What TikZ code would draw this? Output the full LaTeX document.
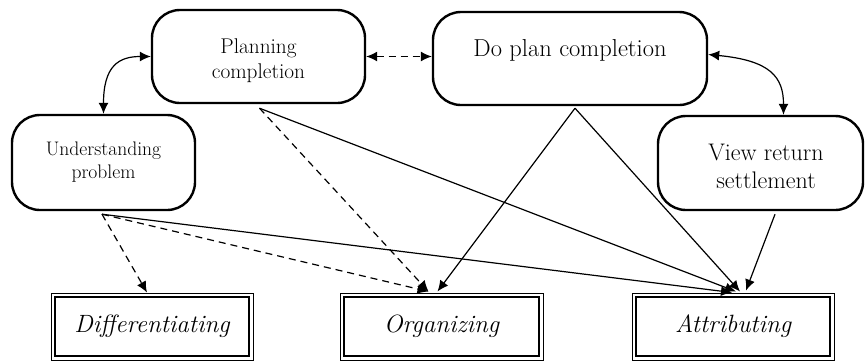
\documentclass[tikz,border=0pt]{standalone}
\usepackage{fontspec}
\usetikzlibrary{arrows.meta,calc}
\begin{document}
\begin{tikzpicture}[x=1pt,y=-1pt,
  rbox/.style={draw, line width=2.4pt, rounded corners=28pt, inner sep=0pt},
  btext/.style={align=center, inner sep=0pt},
  obox/.style={draw, line width=1pt, minimum width=202pt, minimum height=67pt, inner sep=0pt,
    font=\fontsize{25}{28}\selectfont\itshape},
  ibox/.style={line width=2.2pt},
  arr/.style={line width=1.2pt, -{Latex[length=11pt,width=10pt]}},
  barr/.style={line width=1.2pt, {Latex[length=11pt,width=10pt]}-{Latex[length=11pt,width=10pt]}},
  dsh/.style={dash pattern=on 7pt off 5pt}]
\useasboundingbox (0,0) rectangle (866,360);

% rounded boxes
\node[rbox, minimum width=213pt, minimum height=93pt] (p) at (258.5,56.5) {};
\node[btext, font=\fontsize{21.3}{25}\selectfont] (pt) at (258.5,61) {Planning\\completion};

\node[rbox, minimum width=274pt, minimum height=93pt] (do) at (570,58.5) {};
\node[btext, font=\fontsize{24.5}{28}\selectfont] (dt) at (570,50) {Do plan completion};

\node[rbox, minimum width=183pt, minimum height=95pt] (u) at (103.5,162.5) {};
\node[btext, font=\fontsize{19.6}{23}\selectfont] (ut) at (103.5,162.5) {Understanding\\problem};

\node[rbox, minimum width=205pt, minimum height=94pt] (v) at (760.5,163) {};
\node[btext, font=\fontsize{24}{28}\selectfont] (vt) at (766,166.5) {View return\\settlement};

% double-bordered boxes
\node[obox] (d) at (152,326.5) {Differentiating};
\node[obox, minimum width=203pt] (o) at (441.5,326.5) {Organizing};
\node[obox] (a) at (733,326.5) {Attributing};
\foreach \n in {d,o,a}{
  \draw[ibox] ($(\n.north west)+(4.5,4.5)$) rectangle ($(\n.south east)+(-4.5,-4.5)$);
}

% helper coordinates
\coordinate (pb) at ($(p.south)+(1,4)$);
\coordinate (db) at ($(do.south)+(5,2)$);
\coordinate (ub) at ($(u.south)+(-1.5,3)$);
\coordinate (vb) at ($(v.south)+(14.5,3)$);
\coordinate (vtop) at ($(v.north)+(23,0)$);
\coordinate (de) at ($(do.east)+(0,-4)$);

% connectors between upper boxes
\draw[barr] (u.north) .. controls +(0,-48) and +(-32,0) .. (p.west);
\draw[barr, dsh] (p.east) -- (p.east -| do.west);
\draw[barr] (de) .. controls +(62,6) and +(0,-38) .. (vtop);

% to Differentiating
\draw[arr, dsh] (ub) -- ($(d.north)+(-5,0)$);
% to Organizing
\draw[arr, dsh] (ub) -- ($(o.north)+(-13,-1)$);
\draw[arr, dsh] (pb) -- ($(o.north)+(-13,-1)$);
\draw[arr] (db) -- ($(o.north)+(-4,-1)$);
% to Attributing
\draw[arr] (ub) -- ($(a.north)+(-1,0)$);
\draw[arr] (pb) -- ($(a.north)+(3,-1)$);
\draw[arr] (db) -- ($(a.north)+(7,-1)$);
\draw[arr] (vb) -- ($(a.north)+(13,-2)$);
\end{tikzpicture}
\end{document}
